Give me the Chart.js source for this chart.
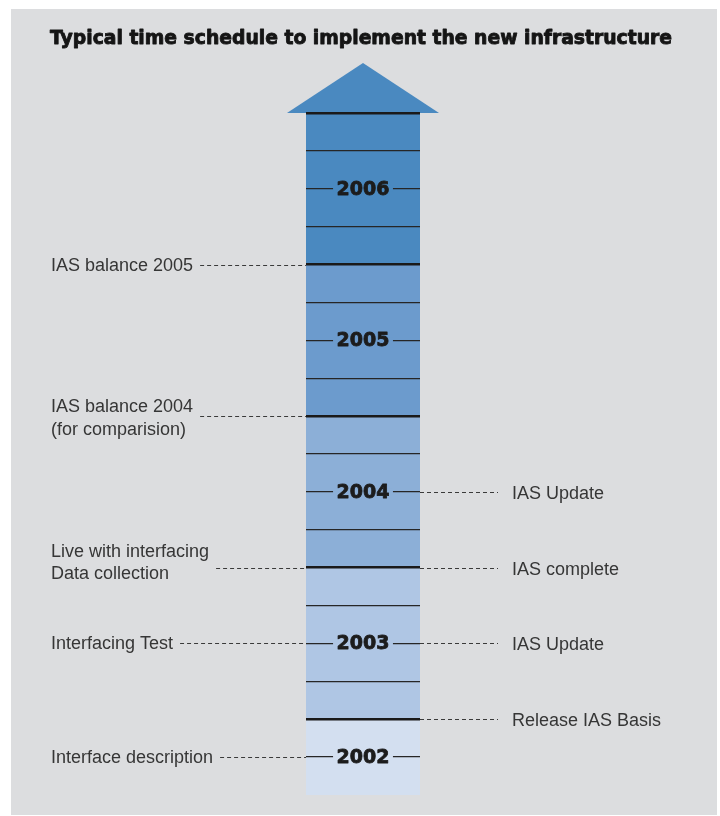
<!DOCTYPE html>
<html><head><meta charset="utf-8">
<script src="https://cdn.jsdelivr.net/npm/chart.js@4"></script>
<style>html,body{margin:0;padding:0;background:#fff;}#wrap{position:relative;width:720px;height:816px;}</style>
</head><body><div id="wrap"><canvas id="c"></canvas></div>
<script>
const titleText = 'Typical time schedule to implement the new infrastructure';
const years = ['2002', '2003', '2004', '2005', '2006'];
const yearStart = [2002.5, 2003, 2004, 2005, 2006];
const yearEnd = [2003, 2004, 2005, 2006, 2007];
const yearColors = ['#d3dff0', '#afc6e4', '#8cafd7', '#6c9bcd', '#4a89c0'];
const leftNotes = [['IAS balance 2005'], ['IAS balance 2004', '(for comparision)'], ['Live with interfacing', 'Data collection'], ['Interfacing Test'], ['Interface description']];
const leftNoteAt = [2006, 2005, 2004, 2003.5, 2002.75];
const rightNotes = ['IAS Update', 'IAS complete', 'IAS Update', 'Release IAS Basis'];
const rightNoteAt = [2004.5, 2004, 2003.5, 2003];
const tickStep = 0.25;
const scaleMin = 2002.5, scaleMax = 2007, arrowTip = 2007.33;

const isWhole = v => Math.abs(v - Math.round(v)) < 1e-6;

const datasets = years.map((y, i) => ({
  label: y,
  data: [[yearStart[i], yearEnd[i]]],
  backgroundColor: yearColors[i],
  borderWidth: 0,
  grouped: false,
  barPercentage: 1,
  categoryPercentage: 1
}));

const decor = {
  id: 'decor',
  beforeDraw(chart) {
    const ctx = chart.ctx;
    ctx.save();
    ctx.fillStyle = '#dcdddf';
    ctx.fillRect(11, 9, 706, 806);
    ctx.font = 'bold 19.5px "DejaVu Sans"';
    ctx.textAlign = 'center';
    ctx.textBaseline = 'middle';
    ctx.fillStyle = '#151515';
    ctx.strokeStyle = '#151515';
    ctx.lineWidth = 0.9;
    ctx.lineJoin = 'round';
    ctx.fillText(titleText, 361, 39, 622);
    ctx.strokeText(titleText, 361, 39, 622);
    ctx.restore();
  },
  afterDatasetsDraw(chart) {
    const ctx = chart.ctx, ys = chart.scales.y;
    const bar = chart.getDatasetMeta(years.length - 1).data[0];
    const half = bar.width * 0.667;
    const base = ys.getPixelForValue(scaleMax), tip = ys.getPixelForValue(arrowTip);
    ctx.save();
    ctx.fillStyle = yearColors[yearColors.length - 1];
    ctx.beginPath();
    ctx.moveTo(bar.x - half, base);
    ctx.lineTo(bar.x, tip);
    ctx.lineTo(bar.x + half, base);
    ctx.closePath();
    ctx.fill();
    ctx.restore();
  },
  afterDraw(chart) {
    const ctx = chart.ctx, ys = chart.scales.y, area = chart.chartArea;
    const cx = (area.left + area.right) / 2;
    ctx.save();
    // year labels
    ctx.font = 'bold 19px "DejaVu Sans"';
    ctx.textAlign = 'center';
    ctx.textBaseline = 'middle';
    ctx.lineWidth = 0.8;
    ctx.lineJoin = 'round';
    years.forEach((y, i) => {
      const py = ys.getPixelForValue((yearStart[i] + yearEnd[i]) / 2);
      const w = ctx.measureText(y).width;
      ctx.fillStyle = yearColors[i];
      ctx.fillRect(cx - w / 2 - 3.5, py - 3, w + 7, 6);
      ctx.fillStyle = '#1c1c1c';
      ctx.strokeStyle = '#1c1c1c';
      ctx.fillText(y, cx, py + 1);
      ctx.strokeText(y, cx, py + 1);
    });
    // notes
    ctx.font = '18px "Liberation Sans"';
    ctx.textAlign = 'left';
    ctx.strokeStyle = '#3a3a3a';
    ctx.lineWidth = 1;
    ctx.setLineDash([4, 3]);
    leftNotes.forEach((lines, i) => {
      const py = Math.round(ys.getPixelForValue(leftNoteAt[i])) + 0.5;
      const offs = lines.length === 1 ? [1] : (lines[0].startsWith('IAS') ? [-9, 14] : [-16, 6]);
      let maxW = 0;
      ctx.fillStyle = '#363636';
      lines.forEach((t, k) => {
        ctx.fillText(t, 51, py + offs[k]);
        maxW = Math.max(maxW, ctx.measureText(t).width);
      });
      ctx.beginPath();
      ctx.moveTo(51 + maxW + 7, py);
      ctx.lineTo(area.left, py);
      ctx.stroke();
    });
    rightNotes.forEach((t, i) => {
      const py = Math.round(ys.getPixelForValue(rightNoteAt[i])) + 0.5;
      ctx.fillStyle = '#363636';
      ctx.fillText(t, 512, py + 2);
      ctx.beginPath();
      ctx.moveTo(area.right, py);
      ctx.lineTo(498, py);
      ctx.stroke();
    });
    ctx.restore();
  }
};

new Chart(document.getElementById('c'), {
  type: 'bar',
  data: { labels: [''], datasets },
  options: {
    responsive: true,
    maintainAspectRatio: false,
    animation: false,
    layout: { padding: { left: 306, right: 300, top: 113, bottom: 21 } },
    plugins: {
      legend: { display: false },
      tooltip: { enabled: false },
      title: { display: false }
    },
    scales: {
      x: { display: false },
      y: {
        min: scaleMin,
        max: scaleMax,
        border: { display: false },
        ticks: { display: false, stepSize: tickStep },
        grid: {
          z: 1,
          drawTicks: false,
          color: c => (c.tick && c.tick.value > scaleMin + 1e-6) ? (isWhole(c.tick.value) ? '#1a1a1a' : '#262626') : 'rgba(0,0,0,0)',
          lineWidth: c => (c.tick && isWhole(c.tick.value)) ? 2.5 : 1.3
        }
      }
    }
  },
  plugins: [decor]
});
</script></body></html>
